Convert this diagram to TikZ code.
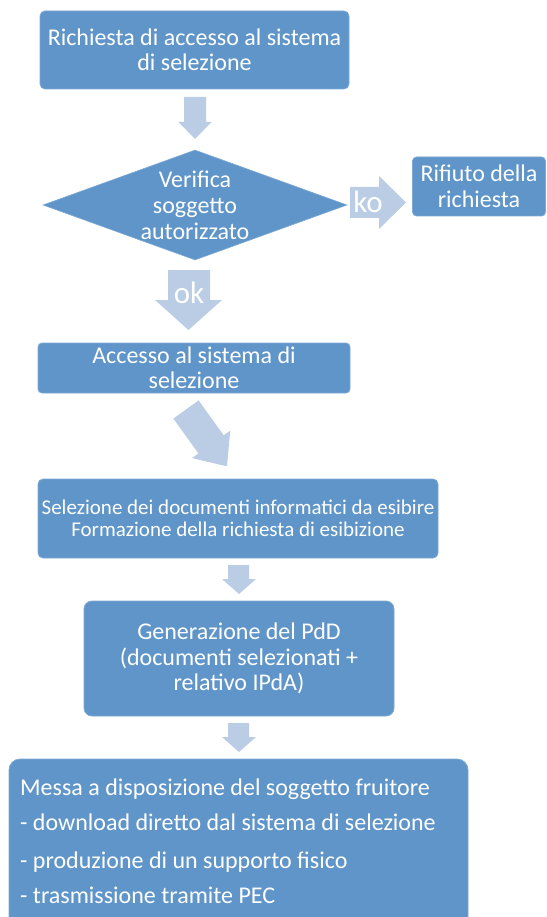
\documentclass[tikz,border=0pt]{standalone}
\usepackage{fontspec}
\setmainfont{Carlito}
\usetikzlibrary{shapes.geometric}
\definecolor{boxblue}{RGB}{95,149,200}
\definecolor{edgeblue}{RGB}{125,170,213}
\definecolor{arrowblue}{RGB}{186,205,228}
\begin{document}
\begin{tikzpicture}[x=1pt,y=-1pt,
  box/.style={fill=boxblue, draw=edgeblue, line width=0.8pt, rounded corners=#1,
    inner sep=0pt, text=white, align=center},
  box/.default=5pt,
  txt/.style={font=\fontsize{24}{25.5}\selectfont},
  smalltxt/.style={font=\fontsize{21}{21.5}\selectfont},
  listtxt/.style={anchor=base west, inner sep=0pt, text=white, font=\fontsize{24}{24}\selectfont},
  blockarrow/.style={fill=arrowblue, draw=none},
  arrowlabel/.style={text=white, inner sep=0pt, font=\fontsize{31}{31}\selectfont}]
\useasboundingbox (0,0) rectangle (546,917);
\fill[white] (0,0) rectangle (546,917);

% boxes
\node[box, txt, minimum width=309pt, minimum height=78pt] (b1) at (194.5,50)
  {Richiesta di accesso al sistema\\di selezione};
\node[diamond, fill=boxblue, draw=edgeblue, line width=0.6pt, inner sep=0pt,
  minimum width=304pt, minimum height=110pt] (dec) at (195,205) {};
\node[text=white, align=center, inner sep=0pt, font=\fontsize{24}{26}\selectfont] (dectxt) at (dec.center)
  {Verifica\\soggetto\\autorizzato};
\node[box=4pt, txt, minimum width=133pt, minimum height=59pt] (rif) at (479,186.5)
  {Rifiuto della\\richiesta};
\node[box=4pt, txt, minimum width=312pt, minimum height=50pt] (acc) at (194,368)
  {Accesso al sistema di\\selezione};
\node[box, smalltxt, minimum width=400pt, minimum height=79pt] (sel) at (238,518.5)
  {Selezione dei documenti informatici da esibire\\Formazione della richiesta di esibizione};
\node[box=8pt, txt, minimum width=310pt, minimum height=115pt] (gen) at (239,658.5)
  {Generazione del PdD\\(documenti selezionati +\\relativo IPdA)};
\node[box=11pt, minimum width=459pt, minimum height=170pt] (mes) at (238.5,844) {};
\node[listtxt] (m1) at (20,795) {Messa a disposizione del soggetto fruitore};
\node[listtxt] (m2) at (20,830) {- download diretto dal sistema di selezione};
\node[listtxt] (m3) at (20,868) {- produzione di un supporto fisico};
\node[listtxt] (m4) at (20,903) {- trasmissione tramite PEC};

% block arrows
\fill[blockarrow] (184,97) -- (206,97) -- (206,122) -- (211.5,122) -- (195,139)
  -- (178.5,122) -- (184,122) -- cycle;
\fill[blockarrow] (168,270) -- (210,270) -- (210,300) -- (222,300) -- (188.5,330)
  -- (155,300) -- (168,300) -- cycle;
\fill[blockarrow] (350,187) -- (379,187) -- (379,176) -- (406,202.5) -- (379,229)
  -- (379,218) -- (350,218) -- cycle;
\fill[blockarrow] (173.4,418.6) -- (198.6,400.4) -- (223.7,435.3) -- (230.2,430.7)
  -- (227,466.3) -- (192,458.1) -- (198.5,453.5) -- cycle;
\fill[blockarrow] (228,565) -- (249,565) -- (249,579) -- (256,579) -- (239,594)
  -- (222,579) -- (228,579) -- cycle;
\fill[blockarrow] (228,723) -- (249,723) -- (249,737) -- (256,737) -- (239,752)
  -- (222,737) -- (228,737) -- cycle;

\node[arrowlabel, anchor=base] (ko) at (368,213) {ko};
\node[arrowlabel, anchor=base] (ok) at (189,303) {ok};
\end{tikzpicture}
\end{document}
